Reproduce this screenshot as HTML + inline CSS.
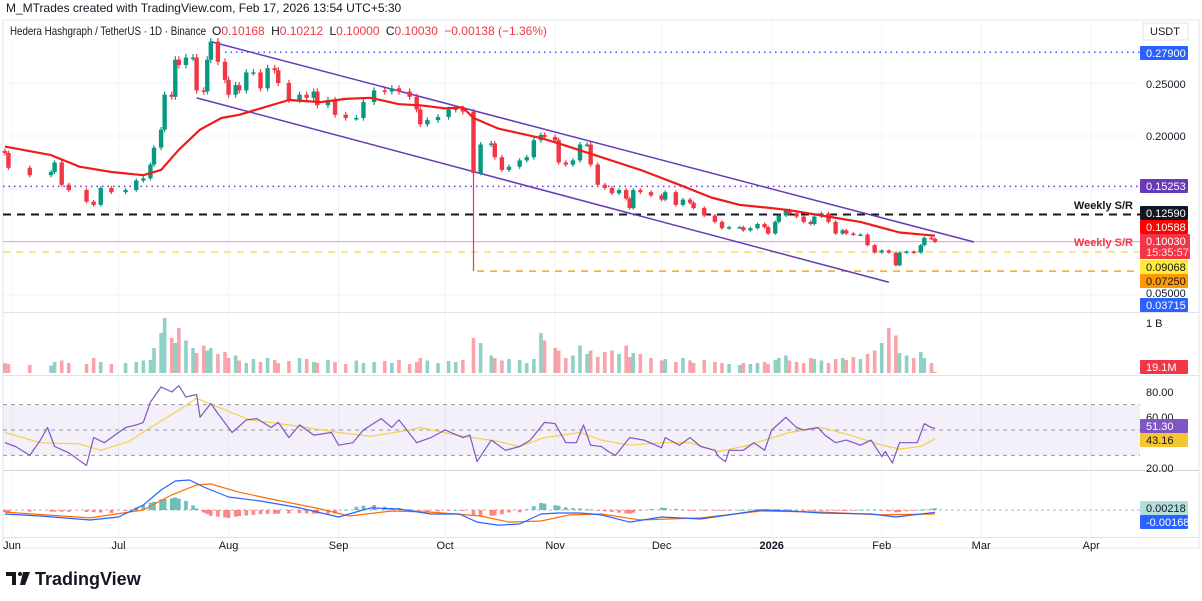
<!DOCTYPE html>
<html><head><meta charset="utf-8"><style>
html,body{margin:0;padding:0;background:#fff;}
svg{display:block;font-family:"Liberation Sans",Arial,sans-serif;}
</style></head><body>
<svg id="chart" width="1202" height="601" viewBox="0 0 1202 601" xmlns="http://www.w3.org/2000/svg">
<rect width="1202" height="601" fill="#ffffff"/>
<g id="grid"></g>
<g id="panes">
  <rect x="3" y="20" width="1196" height="528" fill="none" stroke="#e0e3eb" stroke-width="1"/>
  <line x1="3" y1="312.5" x2="1199" y2="312.5" stroke="#e0e3eb"/>
  <line x1="3" y1="375.5" x2="1199" y2="375.5" stroke="#e0e3eb"/>
  <line x1="3" y1="470.5" x2="1199" y2="470.5" stroke="#d1d4dc"/>
  <line x1="3" y1="537.5" x2="1199" y2="537.5" stroke="#e0e3eb"/>
</g>
<g id="price-pane"></g>
<g id="volume-pane"></g>
<g id="rsi-pane"></g>
<g id="macd-pane"></g>
<g id="axis"></g>
<text x="6" y="12" font-size="12" fill="#131722">M_MTrades created with TradingView.com, Feb 17, 2026 13:54 UTC+5:30</text>
<g>
<rect x="8" y="23" width="200" height="16" fill="#fff"/>
<text x="10" y="35" font-size="12" fill="#131722" textLength="196" lengthAdjust="spacingAndGlyphs">Hedera Hashgraph / TetherUS · 1D · Binance</text>
<text x="212" y="35" font-size="12" fill="#f23645"><tspan fill="#131722">O</tspan>0.10168 <tspan fill="#131722" dx="3">H</tspan>0.10212 <tspan fill="#131722" dx="3">L</tspan>0.10000 <tspan fill="#131722" dx="3">C</tspan>0.10030 <tspan dx="3">−0.00138 (−1.36%)</tspan></text>
</g>
<g>
  <path d="M6 572h10v13h-4v-9h-6z" fill="#131722"/>
  <circle cx="20" cy="574" r="2" fill="#131722"/>
  <path d="M23 572h7l-5 13h-5z" fill="#131722"/>
  <text x="35" y="585" font-size="18" font-weight="bold" fill="#131722">TradingView</text>
</g>
</svg>
<script>
// ---- data ----
const days = [-2,-1,5,11,12,14,16,21,23,25,28,32,35,37,39,40,42,43,45,46,47,49,51,52,54,55,56,58,60,61,63,64,66,68,70,72,74,75,78,81,83,85,86,89,91,94,97,99,102,105,107,109,112,114,115,117,120,123,125,127,130,132,135,136,138,140,143,145,147,149,150,153,154,156,158,160,162,163,165,167,169,171,173,174,175,177,180,183,184,187,189,191,192,195,198,200,202,205,206,208,210,212,213,215,216,218,219,221,223,225,226,228,230,232,234,235,237,239,241,243,245,247,249,250,252,254,256,257,259,260];
const closes = [.184,.170,.163,.166,.175,.154,.149,.138,.135,.151,
.147,.149,.158,.160,.173,.189,.206,.239,.237,.272,
.267,.274,.274,.243,.242,.272,.289,.270,.253,.239,
.248,.243,.260,.260,.245,.264,.262,.250,.234,.239,
.236,.242,.229,.234,.220,.217,.217,.232,.243,.242,
.245,.242,.237,.225,.211,.215,.218,.225,.226,.223,
.165,.192,.193,.180,.168,.171,.177,.180,.196,.201,
.199,.196,.175,.173,.177,.192,.192,.173,.154,.151,
.146,.149,.141,.132,.149,.147,.144,.140,.147,.135,
.140,.137,.132,.125,.119,.113,.114,.114,.111,.113,
.117,.114,.108,.119,.125,.130,.127,.124,.119,.117,
.124,.127,.119,.108,.111,.108,.107,.107,.097,.090,
.092,.090,.078,.090,.091,.090,.097,.104,.103,.1003];
const lowOverrideIndex = [60];
const lowOverrideValue = [0.0725];
const volumes = [200,180,160,150,220,250,200,180,300,220,
180,200,220,250,260,500,800,1100,700,600,
900,650,500,400,550,450,500,380,420,300,
350,250,200,280,220,300,260,200,240,300,
280,220,200,260,220,180,250,200,220,240,
200,260,180,220,300,250,200,240,220,260,
700,600,350,300,250,280,260,200,280,800,
650,500,450,300,350,550,380,450,320,420,
450,380,550,320,400,380,300,250,280,220,
300,250,200,260,220,200,180,160,200,180,
200,220,180,260,300,350,250,220,200,300,
280,250,200,280,300,260,320,280,380,450,
600,900,750,400,350,300,420,300,200,20];
const maDays = [-2,11,19,28,37,42,47,53,59,64,70,78,87,94,101,109,115,122,127,130,137,149,154,166,177,188,197,205,214,219,228,239,250,260];
const maValues = [.190,.182,.171,.166,.163,.168,.187,.206,.217,.220,.226,.234,.232,.235,.236,.230,.229,.226,.227,.217,.207,.198,.193,.180,.168,.154,.142,.135,.132,.130,.125,.119,.109,.1059];
const rsiDays = [-2,1,5,8,10,12,16,21,23,26,29,32,35,37,39,42,45,47,49,52,53,56,58,62,66,69,73,75,78,81,85,90,92,96,99,104,107,109,114,118,122,127,129,131,135,139,143,146,150,153,156,159,161,163,166,168,170,174,178,183,184,188,191,194,198,199,201,202,206,209,212,214,218,221,223,227,229,232,235,239,242,245,246,248,250,253,255,257,259,260];
const rsiValues = [40,37,30,42,52,37,32,22,44,40,46,52,54,56,72,84,80,85,76,78,60,71,63,48,58,59,52,56,44,54,46,48,38,40,50,59,52,58,40,44,50,44,46,25,42,34,37,42,56,55,40,40,54,38,37,33,30,44,42,36,44,38,44,37,34,29,25,34,34,40,34,50,60,52,50,52,46,40,42,38,42,29,33,24,40,40,40,55,52,51.3];
const rsiMaDays = [-2,8,19,25,33,39,46,52,59,67,78,92,101,112,115,125,137,143,150,160,166,174,183,191,199,206,219,228,236,245,250,256,260];
const rsiMaValues = [48,40,39,34,41,52,64,75,67,58,54,48,45,50,52,46,41,37,44,48,42,38,40,40,33,37,48,52,46,38,35,37,43.16];
const macdDays = [-2,8,22,30,37,42,46,50,54,61,70,81,92,101,109,118,126,131,137,143,149,154,160,166,174,183,194,202,211,219,228,242,249,260];
const macdValues = [-2.9,-4.4,-7.3,-5.1,3.6,14.6,21.2,21.9,16.8,9.5,6.6,1.5,-5.1,1.5,0.7,-2.9,-2.9,-8.8,-11,-10.2,-2.9,-2.2,-2.2,-3.6,-8.8,-5.1,-6.6,-3.6,0,-0.7,-2.2,-2.9,-5.1,-1.7];
const signalDays = [-2,14,22,37,45,52,56,64,73,87,95,107,118,132,140,149,157,166,177,194,211,228,245,260];
const signalValues = [-1.5,-4.4,-5.8,0,11,18.3,19,13,8,0.7,-4.4,-0.7,-1.5,-4.4,-8.8,-8,-3.6,-2.9,-7.3,-5.8,-0.7,-1.5,-3.6,-2.9];
const monthLabels = ["Jun","Jul","Aug","Sep","Oct","Nov","Dec","2026","Feb","Mar","Apr"];
const monthDays = [0,30,61,92,122,153,183,214,245,273,304];
const channelUpperDays = [56,271], channelUpperPrices = [0.289,0.100];
const channelLowerDays = [52,247], channelLowerPrices = [0.236,0.062];

// ---- scales ----
const NS = "http://www.w3.org/2000/svg";
const xS = d => 12 + d * 3.55;
const yP = p => 83 + (0.25 - p) * 1060;
const yV = v => 373 - v * 0.05;
const yR = r => 392 + (80 - r) * 1.267;
const yM = m => 510 - m * 1.37;
function mk(tag, attrs, parent) {
  const e = document.createElementNS(NS, tag);
  for (const k in attrs) e.setAttribute(k, attrs[k]);
  parent.appendChild(e);
  return e;
}
function interp(ds, vs, d) {
  if (d <= ds[0]) return vs[0];
  for (let i = 1; i < ds.length; i++) if (d <= ds[i]) {
    const t = (d - ds[i-1]) / (ds[i] - ds[i-1]); return vs[i-1] + t * (vs[i] - vs[i-1]);
  }
  return vs[vs.length-1];
}
const grid = document.getElementById('grid');
const pp = document.getElementById('price-pane');
const vp = document.getElementById('volume-pane');
const rp = document.getElementById('rsi-pane');
const mp = document.getElementById('macd-pane');
const ax = document.getElementById('axis');

monthDays.forEach(d => {
  const l = mk('line', {x1: xS(d), x2: xS(d), y1: 20, y2: 537, stroke: '#f0f3fa'}, grid);
  
  
});
[0.25, 0.20, 0.15, 0.10, 0.05].forEach(p => {
  const l = mk('line', {x1: 3, x2: 1140, y1: yP(p), y2: yP(p), stroke: '#f0f3fa'}, grid);
  
  
});

function hline(p, x1, color, dash, w, name) {
  const l = mk('line', {x1: x1, x2: 1140, y1: yP(p), y2: yP(p), stroke: color, 'stroke-dasharray': dash, 'stroke-width': w}, pp);
  
  
}
hline(0.279, xS(60), '#2962ff', '1.5 4', 1.5, 'level-0-279');
hline(0.15253, 3, '#673ab7', '1.5 4', 1.5, 'level-0-15253');
hline(0.1259, 3, '#131722', '8 6', 2, 'weekly-sr-upper');
hline(0.1003, 3, '#f7a1a8', '', 1, 'current-price-line');
hline(0.09068, 3, '#f5e050', '7 6', 1.5, 'level-0-09068');
hline(0.0725, xS(131), '#f5a623', '7 6', 1.5, 'level-0-0725');

[[channelUpperDays, channelUpperPrices, 'channel-upper'], [channelLowerDays, channelLowerPrices, 'channel-lower']].forEach(c => {
  const l = mk('line', {x1: xS(c[0][0]), y1: yP(c[1][0]), x2: xS(c[0][1]), y2: yP(c[1][1]), stroke: '#673ab7', 'stroke-width': 1.5}, pp);
  
  
});

const N = Math.min(days.length, closes.length);
for (let i = 0; i < N; i++) {
  const c = closes[i], o = i > 0 ? closes[i-1] : c * 1.01;
  let hi = Math.max(o, c) * 1.012, lo = Math.min(o, c) * 0.988;
  const k = lowOverrideIndex.indexOf(i); if (k >= 0) lo = lowOverrideValue[k];
  const up = c >= o, col = up ? '#089981' : '#f23645', x = xS(days[i]);
  const g = mk('g', {}, pp);
  
  
  mk('line', {x1: x, x2: x, y1: yP(hi), y2: yP(lo), stroke: col, 'stroke-width': 1.2}, g);
  const yt = yP(Math.max(o, c)), yb = yP(Math.min(o, c));
  mk('rect', {x: x - 2.2, y: yt, width: 4.4, height: Math.max(1.5, yb - yt), fill: col}, g);
  const vb = mk('rect', {x: x - 1.8, y: yV(volumes[i]), width: 3.6, height: 373 - yV(volumes[i]), fill: up ? 'rgba(8,153,129,0.45)' : 'rgba(242,54,69,0.45)'}, vp);
  
  
}
function poly(ds, vs, yf, color, w, parent, name) {
  const pts = ds.map((d, i) => xS(d).toFixed(1) + ',' + yf(vs[i]).toFixed(1)).join(' ');
  const pl = mk('polyline', {points: pts, fill: 'none', stroke: color, 'stroke-width': w, 'stroke-linejoin': 'round'}, parent);
  
  
}
poly(maDays, maValues, yP, '#f21b1b', 2.2, pp, 'moving-average-line');

[['Weekly S/R', 1133, 209, '#131722'], ['Weekly S/R', 1133, 246, '#f23645']].forEach(t => {
  const e = mk('text', {x: t[1], y: t[2], 'text-anchor': 'end', 'font-size': 11, 'font-weight': 'bold', fill: t[3]}, pp);
  e.textContent = t[0];
  
  
});

const band = mk('rect', {x: 3, y: yR(70), width: 1137, height: yR(30) - yR(70), fill: 'rgba(126,87,194,0.09)'}, rp);


[70, 50, 30].forEach(v => {
  const l = mk('line', {x1: 3, x2: 1140, y1: yR(v), y2: yR(v), stroke: '#9598a1', 'stroke-dasharray': '4 4', 'stroke-width': 1}, rp);
  
  
});
poly(rsiMaDays, rsiMaValues, yR, '#f5d04e', 1.2, rp, 'rsi-ma-line');
poly(rsiDays, rsiValues, yR, '#7e57c2', 1.2, rp, 'rsi-line');

const zl = mk('line', {x1: 3, x2: 1140, y1: yM(0), y2: yM(0), stroke: '#b2b5be', 'stroke-dasharray': '3 3'}, mp);


for (let i = 0; i < N; i++) {
  const d = days[i];
  const h = interp(macdDays, macdValues, d) - interp(signalDays, signalValues, d);
  const y0 = yM(0), y1 = yM(h);
  const hb = mk('rect', {x: xS(d) - 1.8, y: Math.min(y0, y1), width: 3.6, height: Math.max(0.8, Math.abs(y1 - y0)), fill: h >= 0 ? 'rgba(38,166,154,0.7)' : 'rgba(255,82,82,0.7)'}, mp);
  
  
}
poly(signalDays, signalValues, yM, '#ff6d00', 1.2, mp, 'macd-signal-line');
poly(macdDays, macdValues, yM, '#2962ff', 1.2, mp, 'macd-line');

monthLabels.forEach((m, i) => {
  const t = mk('text', {x: xS(monthDays[i]), y: 549, 'text-anchor': 'middle', 'font-size': 11, fill: '#131722', 'font-weight': m === '2026' ? 'bold' : 'normal'}, ax);
  t.textContent = m;
  
  
});

const boxes = [
 ['0.27900', 53, '#2962ff', '#fff'], ['0.15253', 186, '#673ab7', '#fff'], ['0.12590', 213, '#131722', '#fff'],
 ['0.10588', 227, '#ff0000', '#fff'], ['0.09068', 267, '#ffeb3b', '#131722'], ['0.07250', 281, '#ff9800', '#131722'],
 ['0.03715', 305, '#2962ff', '#fff'], ['19.1M', 367, '#f23645', '#fff'], ['51.30', 426, '#7e57c2', '#fff'],
 ['43.16', 440, '#f7c531', '#131722'], ['0.00218', 508, '#b2dfdb', '#131722'], ['-0.00168', 522, '#2962ff', '#fff']];
const plain = [['0.25000', 84], ['0.20000', 136], ['0.05000', 293], ['1 B', 323], ['80.00', 392], ['60.00', 417], ['20.00', 468]];
plain.forEach(p => {
  const t = mk('text', {x: 1146, y: p[1] + 4, 'font-size': 11, fill: '#131722'}, ax);
  t.textContent = p[0];
  
  
});
boxes.forEach(b => {
  const g = mk('g', {}, ax);
  
  
  mk('rect', {x: 1140, y: b[1] - 7, width: 48, height: 14, fill: b[2], rx: 1}, g);
  const t = mk('text', {x: 1146, y: b[1] + 4, 'font-size': 11, fill: b[3]}, g);
  t.textContent = b[0];
});
const cg = mk('g', {}, ax);


mk('rect', {x: 1140, y: 234, width: 50, height: 25, fill: '#f23645', rx: 1}, cg);
const c1 = mk('text', {x: 1146, y: 245, 'font-size': 11, fill: '#fff'}, cg); c1.textContent = '0.10030';
const c2 = mk('text', {x: 1146, y: 256, 'font-size': 11, fill: '#fde0e2'}, cg); c2.textContent = '15:35:57';
const ug = mk('g', {}, ax);


mk('rect', {x: 1143, y: 23, width: 45, height: 17, fill: '#fff', stroke: '#e0e3eb'}, ug);
const ut = mk('text', {x: 1150, y: 35, 'font-size': 11, fill: '#131722'}, ug); ut.textContent = 'USDT';
</script>
</body></html>
